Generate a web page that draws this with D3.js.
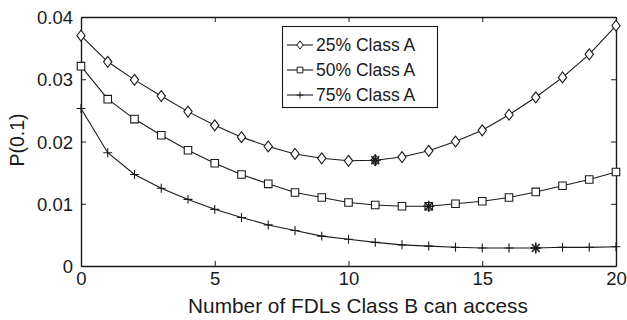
<!DOCTYPE html>
<html>
<head>
<meta charset="utf-8">
<script src="https://cdn.jsdelivr.net/npm/d3@7/dist/d3.min.js"></script>
<style>
  html, body { margin: 0; padding: 0; background: #fff; }
  svg { display: block; font-family: "Liberation Sans", Arial, Helvetica, sans-serif; }
</style>
</head>
<body>
<svg id="chart" width="627" height="320"></svg>
<script>
// Number of FDLs that Class B can access
const fdls = [0, 1, 2, 3, 4, 5, 6, 7, 8, 9, 10, 11, 12, 13, 14, 15, 16, 17, 18, 19, 20];

// P(0.1) for each share of Class A traffic
const classA25 = [0.0370, 0.0328, 0.0299, 0.0273, 0.0248, 0.0226, 0.0207, 0.0192, 0.0180, 0.0173, 0.0169,
                  0.0170, 0.0175, 0.0185, 0.0200, 0.0218, 0.0243, 0.0271, 0.0303, 0.0340, 0.0386];
const classA50 = [0.0321, 0.0268, 0.0236, 0.0210, 0.0186, 0.0165, 0.0147, 0.0132, 0.0118, 0.0110, 0.0102,
                  0.0098, 0.0096, 0.0096, 0.0100, 0.0104, 0.0110, 0.0119, 0.0129, 0.0139, 0.0151];
const classA75 = [0.0253, 0.0182, 0.0147, 0.0125, 0.0107, 0.0091, 0.0078, 0.0066, 0.0057, 0.0048, 0.0043,
                  0.0038, 0.0034, 0.0032, 0.0030, 0.0029, 0.0029, 0.0029, 0.0030, 0.0030, 0.0031];

// Index of the optimum (starred) point on each curve
const optimumIndex = [11, 13, 17];

const seriesNames = ["25% Class A", "50% Class A", "75% Class A"];
const markerKinds = ["diamond", "square", "plus"];

const xTicks = [0, 5, 10, 15, 20];
const yTicks = [0, 0.01, 0.02, 0.03, 0.04];

const W = 627, H = 320;
const margin = { top: 17, right: 11, bottom: 54, left: 81 };
const ink = "#1a1a1a";
const fontFamily = "\"Liberation Sans\", Arial, Helvetica, sans-serif";

const svg = d3.select("#chart");
const x = d3.scaleLinear().domain([0, 20]).range([margin.left, W - margin.right]);
const y = d3.scaleLinear().domain([0, 0.04]).range([H - margin.bottom, margin.top]);

// Axes: ticks point inward, mirrored on the top and right edges
const tickLen = 5;
const fmtY = d => d === 0 ? "0" : d3.format(".2f")(d);

const gx = svg.append("g").attr("transform", `translate(0,${y(0)})`)
  .call(d3.axisBottom(x).tickValues(xTicks).tickSizeInner(-tickLen).tickSizeOuter(0).tickPadding(6).tickFormat(d3.format("d")));
const gxTop = svg.append("g").attr("transform", `translate(0,${y(0.04)})`)
  .call(d3.axisTop(x).tickValues(xTicks).tickSizeInner(-tickLen).tickSizeOuter(0).tickFormat(""));
const gy = svg.append("g").attr("transform", `translate(${x(0)},0)`)
  .call(d3.axisLeft(y).tickValues(yTicks).tickSizeInner(-tickLen).tickSizeOuter(0).tickPadding(8).tickFormat(fmtY));
const gyRight = svg.append("g").attr("transform", `translate(${x(20)},0)`)
  .call(d3.axisRight(y).tickValues(yTicks).tickSizeInner(-tickLen).tickSizeOuter(0).tickFormat(""));

[gx, gxTop, gy, gyRight].forEach(g => {
  g.attr("font-size", null).attr("font-family", null);
  g.select(".domain").attr("stroke", ink).attr("stroke-width", 1.4);
  g.selectAll(".tick line").attr("stroke", ink).attr("stroke-width", 1);
  g.selectAll(".tick text").attr("fill", ink)
    .style("font-size", "18.5px").style("font-family", fontFamily);
});
gx.selectAll(".tick text").attr("dy", "0.71em");
gy.selectAll(".tick text").attr("dy", "0.36em");

// Axis titles
svg.append("text")
  .attr("x", 358).attr("y", 313)
  .attr("text-anchor", "middle").style("font-size", "20.8px").attr("fill", ink)
  .text("Number of FDLs Class B can access");
svg.append("text")
  .attr("transform", `translate(23.5,140) rotate(-90)`)
  .attr("text-anchor", "middle").style("font-size", "19.5px").attr("fill", ink)
  .text("P(0.1)");

// Marker shapes drawn around (0,0)
function markerPath(kind, s) {
  const p = d3.path();
  if (kind === "diamond") {
    const w = s * 0.42, h = s * 0.55;
    p.moveTo(0, -h); p.lineTo(w, 0); p.lineTo(0, h); p.lineTo(-w, 0); p.closePath();
  } else if (kind === "square") {
    const h = s * 0.38;
    p.rect(-h, -h, 2 * h, 2 * h);
  } else if (kind === "plus") {
    const h = s * 0.45;
    p.moveTo(-h, 0); p.lineTo(h, 0); p.moveTo(0, -h); p.lineTo(0, h);
  } else if (kind === "star") {
    const h = s * 0.5;
    p.moveTo(-h, 0); p.lineTo(h, 0); p.moveTo(0, -h); p.lineTo(0, h);
    const d = h * 0.72;
    p.moveTo(-d, -d); p.lineTo(d, d); p.moveTo(-d, d); p.lineTo(d, -d);
  }
  return p.toString();
}

const allSeries = [classA25, classA50, classA75];
const line = d3.line().x((d, i) => x(fdls[i])).y(d => y(d));

allSeries.forEach((vals, si) => {
  const g = svg.append("g");
  g.append("path").datum(vals)
    .attr("d", line).attr("fill", "none").attr("stroke", ink).attr("stroke-width", 1.1);
  g.selectAll("path.mk").data(vals).join("path").attr("class", "mk")
    .attr("transform", (d, i) => `translate(${x(fdls[i])},${y(d)})`)
    .attr("d", markerPath(markerKinds[si], 16 * 0.62))
    .attr("fill", "#fff").attr("stroke", ink).attr("stroke-width", 1.1);
  const k = optimumIndex[si];
  g.append("path")
    .attr("transform", `translate(${x(fdls[k])},${y(vals[k])})`)
    .attr("d", markerPath("star", 11))
    .attr("fill", "none").attr("stroke", ink).attr("stroke-width", 1.5);
});

// Legend
const leg = svg.append("g");
leg.append("rect")
  .attr("x", 282.5).attr("y", 26.5).attr("width", 155).attr("height", 81)
  .attr("fill", "#fff").attr("stroke", ink).attr("stroke-width", 1.1);
seriesNames.forEach((name, i) => {
  const cy = 45 + i * 25;
  leg.append("line").attr("x1", 287).attr("x2", 313).attr("y1", cy).attr("y2", cy)
    .attr("stroke", ink).attr("stroke-width", 1.1);
  leg.append("path").attr("transform", `translate(300,${cy})`)
    .attr("d", markerPath(markerKinds[i], 7.5))
    .attr("fill", "#fff").attr("stroke", ink).attr("stroke-width", 1);
  leg.append("text").attr("x", 316).attr("y", cy).attr("dy", "0.36em")
    .style("font-size", "17.5px").attr("fill", ink).text(name);
});
</script>
</body>
</html>
